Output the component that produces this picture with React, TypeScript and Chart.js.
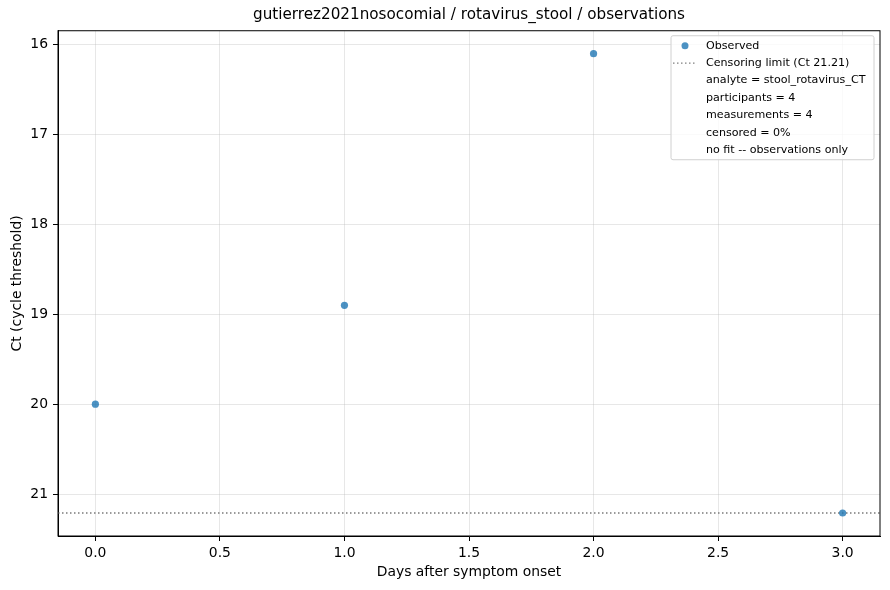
import React, { useEffect, useRef } from "react";
import { Chart, registerables } from "chart.js";

Chart.register(...registerables);

const days = [0, 1, 2, 3];
const ctValues = [20.0, 18.9, 16.1, 21.21];
const censorLimit = 21.21;
const xTicks = [0, 0.5, 1, 1.5, 2, 2.5, 3];
const yTicks = [16, 17, 18, 19, 20, 21];
const xRange = [-0.15, 3.15];
const yRange = [15.845, 21.466];
const titleText = "gutierrez2021nosocomial / rotavirus_stool / observations";
const xLabel = "Days after symptom onset";
const yLabel = "Ct (cycle threshold)";
const legendLabels = [
  "Observed",
  "Censoring limit (Ct 21.21)",
  "analyte = stool_rotavirus_CT",
  "participants = 4",
  "measurements = 4",
  "censored = 0%",
  "no fit -- observations only",
];

const FONT = "'DejaVu Sans', sans-serif";
const BLUE = "rgba(31,119,180,0.8)";

export default function App() {
  const ref = useRef<HTMLCanvasElement>(null);
  useEffect(() => {
    if (!ref.current) return;
    const frame = {
      id: "frame",
      afterDatasetsDraw(chart: any) {
        const { ctx, chartArea: a } = chart;
        ctx.save();
        ctx.strokeStyle = "#000";
        ctx.lineWidth = 1;
        ctx.strokeRect(a.left, a.top, a.right - a.left, a.bottom - a.top);
        ctx.restore();
      },
    };
    const legendBox = {
      id: "legendBox",
      afterDraw(chart: any) {
        const { ctx, chartArea: a } = chart;
        const w = 203, h = 124;
        const x0 = a.right - 6 - w;
        const y0 = a.top + 5;
        ctx.save();
        ctx.fillStyle = "rgba(255,255,255,0.8)";
        ctx.strokeStyle = "#d0d0d0";
        ctx.lineWidth = 1;
        const r = 2;
        ctx.beginPath();
        ctx.moveTo(x0 + r, y0);
        ctx.lineTo(x0 + w - r, y0);
        ctx.quadraticCurveTo(x0 + w, y0, x0 + w, y0 + r);
        ctx.lineTo(x0 + w, y0 + h - r);
        ctx.quadraticCurveTo(x0 + w, y0 + h, x0 + w - r, y0 + h);
        ctx.lineTo(x0 + r, y0 + h);
        ctx.quadraticCurveTo(x0, y0 + h, x0, y0 + h - r);
        ctx.lineTo(x0, y0 + r);
        ctx.quadraticCurveTo(x0, y0, x0 + r, y0);
        ctx.closePath();
        ctx.fill();
        ctx.stroke();
        ctx.font = `11.1px ${FONT}`;
        ctx.textBaseline = "middle";
        ctx.fillStyle = "#000";
        const rowH = 17.4;
        legendLabels.forEach((lab, i) => {
          const cy = y0 + 10 + i * rowH;
          if (i === 0) {
            ctx.fillStyle = BLUE;
            ctx.beginPath();
            ctx.arc(x0 + 14, cy, 3.5, 0, Math.PI * 2);
            ctx.fill();
          } else if (i === 1) {
            ctx.strokeStyle = "#808080";
            ctx.lineWidth = 1.2;
            ctx.setLineDash([1.5, 2.5]);
            ctx.beginPath();
            ctx.moveTo(x0 + 2, cy);
            ctx.lineTo(x0 + 25, cy);
            ctx.stroke();
            ctx.setLineDash([]);
          }
          ctx.fillStyle = "#000";
          ctx.fillText(lab, x0 + 35, cy);
        });
        ctx.restore();
      },
    };
    const chart = new Chart(ref.current, {
      type: "scatter",
      data: {
        datasets: [
          {
            label: legendLabels[0],
            data: days.map((d, i) => ({ x: d, y: ctValues[i] })),
            backgroundColor: BLUE,
            borderWidth: 0,
            pointRadius: 3.6,
            order: 1,
          },
          {
            label: legendLabels[1],
            type: "line",
            data: [
              { x: xRange[0], y: censorLimit },
              { x: xRange[1], y: censorLimit },
            ],
            borderColor: "#7a7a7a",
            borderWidth: 1.3,
            borderDash: [1.5, 2.5],
            pointRadius: 0,
            fill: false,
            order: 2,
          } as any,
        ],
      },
      options: {
        animation: false,
        responsive: false,
        devicePixelRatio: 1,
        layout: { padding: { left: 0, right: 10, top: 0, bottom: 0 } },
        plugins: {
          legend: { display: false },
          tooltip: { enabled: false },
          title: {
            display: true,
            fullSize: false,
            text: titleText,
            color: "#000",
            font: { family: FONT, size: 15.2, weight: "normal" },
            padding: { top: 6, bottom: 6.5 },
          },
        },
        scales: {
          x: {
            type: "linear",
            min: xRange[0],
            max: xRange[1],
            afterBuildTicks: (s: any) => {
              s.ticks = xTicks.map((v) => ({ value: v }));
            },
            afterFit: (s: any) => {
              s.height = 54;
            },
            ticks: {
              color: "#000",
              font: { family: FONT, size: 13.9 },
              padding: 4,
              maxRotation: 0,
              callback: (v: any) => Number(v).toFixed(1),
            },
            grid: {
              color: "rgba(176,176,176,0.3)",
              tickColor: "#000",
              tickLength: 5,
              lineWidth: 1,
            },
            border: { color: "#000", width: 1 },
            title: {
              display: true,
              text: xLabel,
              color: "#000",
              font: { family: FONT, size: 13.9 },
              padding: { top: 0, bottom: 9.6 },
            },
          },
          y: {
            type: "linear",
            reverse: true,
            min: yRange[0],
            max: yRange[1],
            afterBuildTicks: (s: any) => {
              s.ticks = yTicks.map((v) => ({ value: v }));
            },
            afterFit: (s: any) => {
              s.width = 58;
            },
            ticks: {
              color: "#000",
              font: { family: FONT, size: 13.9 },
              padding: 5,
              callback: (v: any) => String(v),
            },
            grid: {
              color: "rgba(176,176,176,0.3)",
              tickColor: "#000",
              tickLength: 5,
              lineWidth: 1,
            },
            border: { color: "#000", width: 1 },
            title: {
              display: true,
              text: yLabel,
              color: "#000",
              font: { family: FONT, size: 13.9 },
              padding: { top: 9, bottom: 0 },
            },
          },
        },
      },
      plugins: [frame, legendBox],
    } as any);
    return () => chart.destroy();
  }, []);
  return (
    <div style={{ position: "fixed", left: 0, top: 0, width: 890, height: 590, background: "#fff" }}>
      <canvas ref={ref} width={890} height={590} style={{ width: 890, height: 590 }} />
    </div>
  );
}
